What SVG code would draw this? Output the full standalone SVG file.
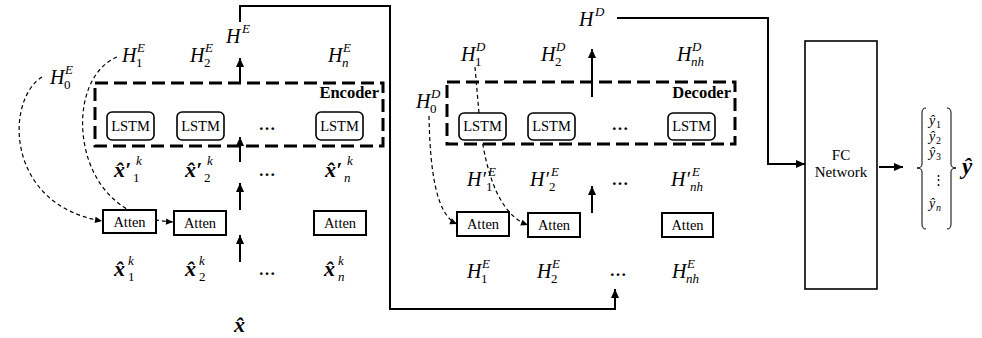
<svg xmlns="http://www.w3.org/2000/svg" width="982" height="338" viewBox="0 0 982 338">
<defs>
<style>
text{font-family:"Liberation Serif","Times New Roman",serif;fill:#000}
.mi{font-style:italic;font-size:20px}
.sp{font-style:italic;font-size:13px}
.sb{font-size:13px}
.sbi{font-style:italic;font-size:13px}
.bx{font-weight:bold;font-style:italic;font-size:22px}
.lbl{font-size:14.5px;text-anchor:middle}
.ttl{font-weight:bold;font-size:16.5px;text-anchor:end}
.dots{font-weight:bold;font-size:17px;text-anchor:middle}
.yi{font-style:italic;font-size:14px}
.ys{font-size:10px}
.ysi{font-style:italic;font-size:10px}
.solid{fill:none;stroke:#000;stroke-width:2}
.dash{fill:none;stroke:#000;stroke-width:1.2;stroke-dasharray:4 3}
.frame{fill:none;stroke:#000;stroke-width:3;stroke-dasharray:13 6}
.lstm{fill:#fff;stroke:#000;stroke-width:1.6}
.atten{fill:#fff;stroke:#000;stroke-width:2}
.fc{fill:#fff;stroke:#000;stroke-width:1.6}
.brace{fill:none;stroke:#000;stroke-width:1}
</style>
<marker id="ah" viewBox="0 0 10 10" refX="10" refY="5" markerWidth="10" markerHeight="9" markerUnits="userSpaceOnUse" orient="auto"><path d="M0,0.5 L10,5 L0,9.5 z" fill="#000"/></marker>
<marker id="ahs" viewBox="0 0 10 10" refX="10" refY="5" markerWidth="8" markerHeight="7" markerUnits="userSpaceOnUse" orient="auto"><path d="M0,0.5 L10,5 L0,9.5 z" fill="#000"/></marker>
</defs>
<rect width="982" height="338" fill="#fff"/>

<g id="connectors">
<path class="solid" d="M240 22 V6 H390 V309 H615 V289" marker-end="url(#ah)"/>
<path class="solid" d="M240 83 V58" marker-end="url(#ah)"/>
<path class="solid" d="M240 162 V137" marker-end="url(#ah)"/>
<path class="solid" d="M240 210 V183" marker-end="url(#ah)"/>
<path class="solid" d="M240 262 V235" marker-end="url(#ah)"/>
<path class="solid" d="M592 97 V49" marker-end="url(#ah)"/>
<path class="solid" d="M592 213 V186" marker-end="url(#ah)"/>
<path class="solid" d="M617 18 H768 V164 H805" marker-end="url(#ah)"/>
<path class="solid" d="M879 167 H903" marker-end="url(#ah)"/>
<path class="dash" d="M42 77 C5 100, 5 205, 102 221" marker-end="url(#ahs)"/>
<path class="dash" d="M117 57 C75 75, 72 150, 105 190 C120 208, 140 220, 173 222" marker-end="url(#ahs)"/>
<path class="dash" d="M429 116 C430 170, 436 215, 457 224" marker-end="url(#ahs)"/>
<path class="dash" d="M475 67 L480 125 C486 175, 500 215, 528 225" marker-end="url(#ahs)"/>
</g>

<g id="encoder">
<rect class="frame" x="95" y="83" width="288" height="63"/>
<text class="ttl" x="379" y="98">Encoder</text>
</g>
<g id="enc-lstm1"><rect class="lstm" x="107" y="112" width="47" height="28" rx="5"/><text class="lbl" x="130.5" y="131">LSTM</text></g>
<g id="enc-lstm2"><rect class="lstm" x="177" y="112" width="47" height="28" rx="5"/><text class="lbl" x="200.5" y="131">LSTM</text></g>
<g id="enc-lstm-dots"><text class="dots" x="267" y="130">…</text></g>
<g id="enc-lstmn"><rect class="lstm" x="316" y="112" width="47" height="28" rx="5"/><text class="lbl" x="339.5" y="131">LSTM</text></g>

<g id="enc-atten1"><rect class="atten" x="103" y="210" width="53" height="23"/><text class="lbl" x="129.5" y="227">Atten</text></g>
<g id="enc-atten2"><rect class="atten" x="174" y="211" width="52" height="24"/><text class="lbl" x="200" y="228">Atten</text></g>
<g id="enc-attenn"><rect class="atten" x="314" y="211" width="52" height="24"/><text class="lbl" x="340" y="228">Atten</text></g>

<g id="HE"><text class="mi" x="226" y="43">H</text><text class="sp" x="242" y="33">E</text></g>
<g id="H0E"><text class="mi" x="50" y="84">H</text><text class="sp" x="65" y="74">E</text><text class="sb" x="64" y="89">0</text></g>
<g id="H1E"><text class="mi" x="122" y="62">H</text><text class="sp" x="137" y="52">E</text><text class="sb" x="136" y="67">1</text></g>
<g id="H2E"><text class="mi" x="190" y="62">H</text><text class="sp" x="205" y="52">E</text><text class="sb" x="204" y="67">2</text></g>
<g id="HnE"><text class="mi" x="328" y="62">H</text><text class="sp" x="343" y="52">E</text><text class="sbi" x="342" y="67">n</text></g>

<g id="xp1"><text class="bx" x="114" y="177">x̂′</text><text class="sp" x="136" y="165">k</text><text class="sb" x="133" y="182">1</text></g>
<g id="xp2"><text class="bx" x="185" y="177">x̂′</text><text class="sp" x="207" y="165">k</text><text class="sb" x="204" y="182">2</text></g>
<g id="xp-dots"><text class="dots" x="267" y="176">…</text></g>
<g id="xpn"><text class="bx" x="325" y="177">x̂′</text><text class="sp" x="347" y="165">k</text><text class="sbi" x="344" y="182">n</text></g>

<g id="x1"><text class="bx" x="114" y="276">x̂</text><text class="sp" x="128" y="265">k</text><text class="sb" x="128" y="281">1</text></g>
<g id="x2"><text class="bx" x="185" y="276">x̂</text><text class="sp" x="199" y="265">k</text><text class="sb" x="199" y="281">2</text></g>
<g id="x-dots"><text class="dots" x="267" y="275">…</text></g>
<g id="xn"><text class="bx" x="324" y="276">x̂</text><text class="sp" x="338" y="265">k</text><text class="sbi" x="338" y="281">n</text></g>
<g id="xhat"><text class="bx" x="234" y="332">x̂</text></g>

<g id="decoder">
<rect class="frame" x="447" y="82" width="288" height="62"/>
<text class="ttl" x="731" y="98">Decoder</text>
</g>
<g id="dec-lstm1"><rect class="lstm" x="459" y="113" width="47" height="27" rx="5"/><text class="lbl" x="482.5" y="131">LSTM</text></g>
<g id="dec-lstm2"><rect class="lstm" x="528" y="113" width="47" height="27" rx="5"/><text class="lbl" x="551.5" y="131">LSTM</text></g>
<g id="dec-lstm-dots"><text class="dots" x="620" y="130">…</text></g>
<g id="dec-lstmn"><rect class="lstm" x="668" y="113" width="47" height="27" rx="5"/><text class="lbl" x="691.5" y="131">LSTM</text></g>

<g id="dec-atten1"><rect class="atten" x="457" y="212" width="52" height="24"/><text class="lbl" x="483" y="229">Atten</text></g>
<g id="dec-atten2"><rect class="atten" x="528" y="213" width="52" height="24"/><text class="lbl" x="554" y="230">Atten</text></g>
<g id="dec-attenn"><rect class="atten" x="662" y="213" width="51" height="24"/><text class="lbl" x="687.5" y="230">Atten</text></g>

<g id="HD"><text class="mi" x="579" y="26">H</text><text class="sp" x="595" y="16">D</text></g>
<g id="H0D"><text class="mi" x="416" y="108">H</text><text class="sp" x="431" y="98">D</text><text class="sb" x="430" y="113">0</text></g>
<g id="H1D"><text class="mi" x="461" y="61">H</text><text class="sp" x="476" y="51">D</text><text class="sb" x="475" y="66">1</text></g>
<g id="H2D"><text class="mi" x="541" y="61">H</text><text class="sp" x="556" y="51">D</text><text class="sb" x="555" y="66">2</text></g>
<g id="HnhD"><text class="mi" x="677" y="61">H</text><text class="sp" x="692" y="51">D</text><text class="sbi" x="691" y="66">nh</text></g>

<g id="Hp1"><text class="mi" x="467" y="186">H′</text><text class="sp" x="488" y="176">E</text><text class="sb" x="486" y="191">1</text></g>
<g id="Hp2"><text class="mi" x="530" y="186">H′</text><text class="sp" x="551" y="176">E</text><text class="sb" x="549" y="191">2</text></g>
<g id="Hp-dots"><text class="dots" x="620" y="185">…</text></g>
<g id="Hpnh"><text class="mi" x="671" y="186">H′</text><text class="sp" x="692" y="176">E</text><text class="sbi" x="690" y="191">nh</text></g>

<g id="HE1"><text class="mi" x="467" y="278">H</text><text class="sp" x="482" y="268">E</text><text class="sb" x="481" y="283">1</text></g>
<g id="HE2"><text class="mi" x="537" y="278">H</text><text class="sp" x="552" y="268">E</text><text class="sb" x="551" y="283">2</text></g>
<g id="HE-dots"><text class="dots" x="618" y="276">…</text></g>
<g id="HEnh"><text class="mi" x="672" y="278">H</text><text class="sp" x="687" y="268">E</text><text class="sbi" x="686" y="283">nh</text></g>

<g id="fc"><rect class="fc" x="805" y="41" width="72" height="248"/><text class="lbl" x="841" y="160" style="font-size:15px">FC</text><text class="lbl" x="841" y="177" style="font-size:15px">Network</text></g>

<g id="output">
<path class="brace" d="M926 108 Q922 108 922 113 V164 Q922 168 917 168 Q922 168 922 172 V224 Q922 229 926 229"/>
<path class="brace" d="M947 108 Q951 108 951 113 V164 Q951 168 956 168 Q951 168 951 172 V224 Q951 229 947 229"/>
<text class="yi" x="929" y="125">ŷ</text><text class="ys" x="936" y="128">1</text>
<text class="yi" x="929" y="141">ŷ</text><text class="ys" x="936" y="144">2</text>
<text class="yi" x="929" y="157">ŷ</text><text class="ys" x="936" y="160">3</text>
<text class="yi" x="932" y="184" style="font-style:normal;font-size:13px">⋮</text>
<text class="yi" x="929" y="208">ŷ</text><text class="ysi" x="936" y="211">n</text>
<text class="bx" x="962" y="174" style="font-size:23px">ŷ</text>
</g>
</svg>
